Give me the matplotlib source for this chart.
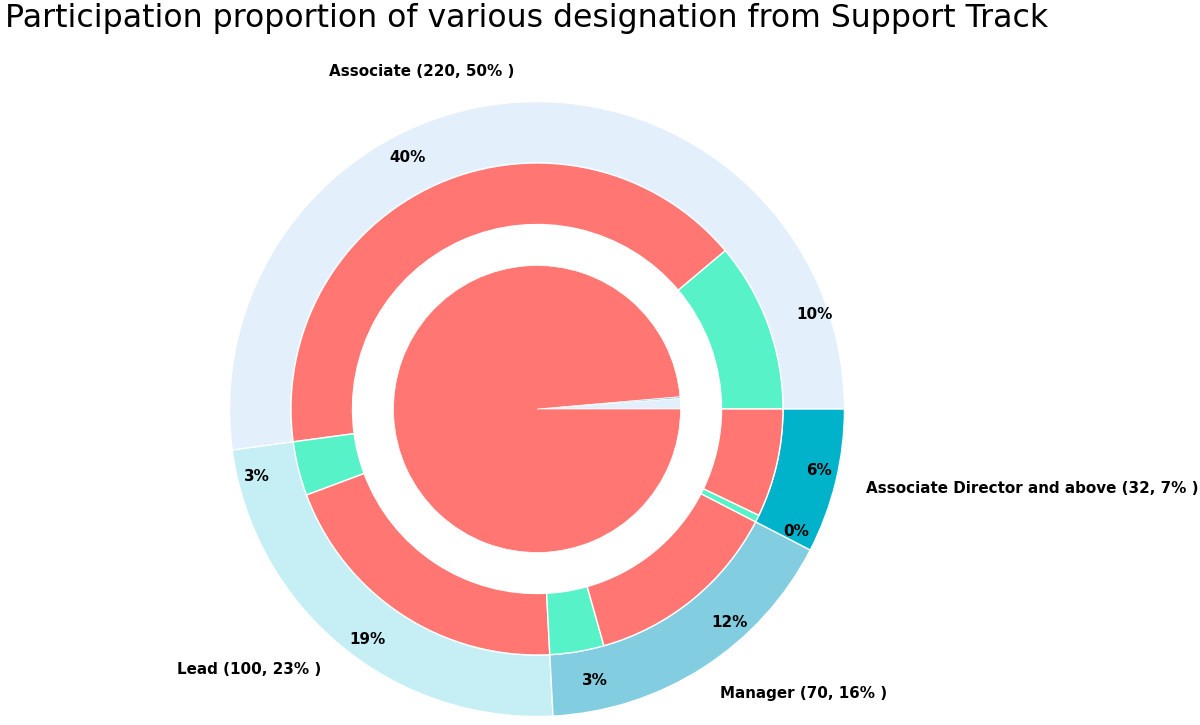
import matplotlib
matplotlib.use("Agg")
import matplotlib.pyplot as plt

# Outer ring: designations
designations = ["Associate", "Lead", "Manager", "Associate Director and above"]
counts = [220, 100, 70, 32]
outer_pct = ["50%", "23%", "16%", "7%"]
outer_colors = ["#E3F0FC", "#C5EEF5", "#82CEE0", "#00B3CA"]

# Middle ring: per designation (not participated / participated)
mid_values = [47, 173, 15, 85, 15, 55, 2, 30]
mid_labels = ["10%", "40%", "3%", "19%", "3%", "12%", "0%", "6%"]
mid_colors = ["#57F2C8", "#FF7673"] * 4

# Center pie
center_values = [5, 0.8, 416.2]
center_colors = ["#E3F0FC", "#82CEE0", "#FF7673"]

title = "Participation proportion of various designation from Support Track"

fig = plt.figure(figsize=(12, 7.25), dpi=100)
ax = fig.add_axes([0, 0, 1, 1])

outer_text = [f"{d} ({c}, {p} )" for d, c, p in zip(designations, counts, outer_pct)]
wedges, texts = ax.pie(counts, radius=1.5, colors=outer_colors, labels=outer_text,
                       labeldistance=1.1, startangle=0, counterclock=True,
                       wedgeprops=dict(width=0.3, edgecolor="white", linewidth=1),
                       textprops=dict(fontsize=10.9, fontweight="bold"))

w2, t2 = ax.pie(mid_values, radius=1.2, colors=mid_colors, labels=mid_labels,
                labeldistance=1.12, startangle=0,
                wedgeprops=dict(width=0.3, edgecolor="white", linewidth=1),
                textprops=dict(fontsize=10.9, fontweight="bold"))

ax.pie(center_values, radius=0.7, colors=center_colors, startangle=0,
       wedgeprops=dict(edgecolor="white", linewidth=0.5))

s = 205.0
cx, cy = 537, 409
ax.set_xlim(-cx / s, (1200 - cx) / s)
ax.set_ylim(-(725 - cy) / s, cy / s)
ax.set_aspect("equal", adjustable="datalim")
ax.axis("off")

fig.text(5 / 1200, 1 - 18 / 725, title, fontsize=22.7, ha="left", va="center")

fig.savefig("out.png", dpi=100)
